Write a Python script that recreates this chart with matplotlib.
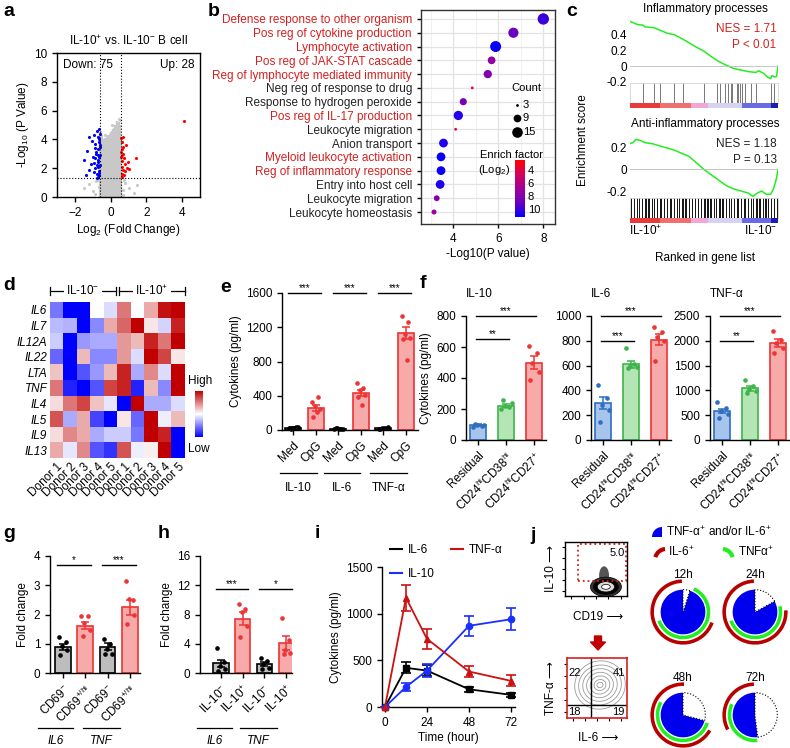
import numpy as np
import matplotlib
matplotlib.use("Agg")
import matplotlib.pyplot as plt
from matplotlib.colors import LinearSegmentedColormap, Normalize
from matplotlib.cm import ScalarMappable
from matplotlib.patches import Wedge, Arc, Ellipse, Rectangle, FancyArrow
from matplotlib.lines import Line2D
from matplotlib.ticker import MultipleLocator
from matplotlib.transforms import IdentityTransform

plt.rcParams["font.family"] = ["Liberation Sans", "DejaVu Sans"]
plt.rcParams["mathtext.fontset"] = "custom"
plt.rcParams["mathtext.rm"] = "Liberation Sans"
plt.rcParams["mathtext.it"] = "Liberation Sans:italic"
plt.rcParams["font.size"] = 8.5
plt.rcParams["axes.linewidth"] = 1.0

# ---------------- a: volcano ----------------
down_x = [-1.35, -1.2, -1.1, -0.95, -0.85, -0.75, -0.7, -0.65, -0.62, -0.68, -0.72, -0.8, -0.9,
          -1.05, -1.2, -0.95, -0.75, -0.65, -0.62, -0.7, -0.85, -1.0, -0.6, -0.63, -0.78, -0.66,
          -0.88, -0.73, -1.3, -0.61, -0.69, -0.64, -0.76, -1.5, -0.82, -0.67, -0.6, -0.71, -0.93, -0.64]
down_y = [1.55, 1.9, 2.3, 2.35, 2.0, 1.6, 1.4, 1.8, 2.2, 2.6, 2.9, 3.1, 3.4,
          3.9, 4.2, 4.3, 4.6, 4.0, 3.6, 3.3, 2.7, 2.75, 2.95, 1.5, 2.2, 3.8,
          3.7, 4.2, 3.2, 4.4, 2.1, 1.65, 1.35, 2.6, 3.0, 4.7, 3.45, 2.45, 1.75, 2.8]
up_x = [0.6, 0.65, 0.62, 0.7, 0.75, 0.62, 0.8, 0.65, 0.9, 0.7, 1.0, 0.62, 0.75, 1.4, 4.1,
        0.66, 0.85, 0.6, 0.72, 0.64, 0.95, 0.6, 0.78, 0.68]
up_y = [4.1, 3.8, 3.3, 3.0, 2.7, 2.5, 2.3, 2.1, 2.0, 1.9, 1.95, 1.6, 1.5, 2.7, 5.3,
        2.9, 3.6, 2.75, 4.2, 1.4, 2.4, 3.1, 1.8, 3.5]
cloud_x = [-0.58, -0.54, -0.5, -0.46, -0.42, -0.38, -0.34, -0.3, -0.26, -0.22, -0.18, -0.14, -0.1, -0.06, -0.02,
           0.02, 0.06, 0.1, 0.14, 0.18, 0.22, 0.26, 0.3, 0.34, 0.38, 0.42, 0.46, 0.5, 0.54, 0.58]
cloud_top = [4.5, 4.6, 4.3, 4.1, 4.0, 3.9, 4.0, 4.1, 4.0, 4.2, 4.1, 4.3, 4.2, 4.4, 4.3,
             4.5, 4.6, 4.5, 4.7, 4.8, 4.9, 5.0, 5.0, 5.2, 5.3, 5.1, 5.2, 5.0, 4.6, 4.0]
gray_x = [-1.5, -1.2, -1.0, -0.8, 0.8, 1.0, 1.3, 1.5, -0.9, 0.7, -0.65, 0.68, -0.7, 0.75, 0.45, 0.1, -0.3, 0.55]
gray_y = [0.6, 0.9, 0.4, 1.1, 1.0, 0.6, 0.3, 0.8, 0.2, 0.15, 0.7, 0.5, 1.2, 1.15, 5.4, 5.0, 4.3, 5.35]

# ---------------- b: GO terms ----------------
go_terms = ["Defense response to other organism", "Pos reg of cytokine production", "Lymphocyte activation",
            "Pos reg of JAK-STAT cascade", "Reg of lymphocyte mediated immunity", "Neg reg of response to drug",
            "Response to hydrogen peroxide", "Pos reg of IL-17 production", "Leukocyte migration",
            "Anion transport", "Myeloid leukocyte activation", "Reg of inflammatory response",
            "Entry into host cell", "Leukocyte migration", "Leukocyte homeostasis"]
go_red = [True, True, True, True, True, False, False, True, False, False, True, True, False, False, False]
go_logp = [8.0, 6.67, 5.88, 5.7, 5.53, 4.84, 4.44, 4.22, 4.1, 3.56, 3.45, 3.45, 3.41, 3.26, 3.14]
go_count = [17, 14, 16, 9, 10, 3, 8, 12, 3, 11, 11, 11, 11, 6, 5]
go_enrich = [10, 9, 11, 7.5, 8, 4, 8.5, 10.5, 4, 10.5, 11, 11, 10.5, 8, 7]
count_keys = [3, 9, 15]

# ---------------- c: GSEA ----------------
inf_x = [0, 0.05, 0.09, 0.1, 0.16, 0.2, 0.25, 0.3, 0.36, 0.45, 0.5, 0.55, 0.59, 0.64, 0.7, 0.75,
         0.8, 0.85, 0.87, 0.9, 0.93, 0.95, 0.96, 0.98, 0.99, 1.0]
inf_es = [0.57, 0.53, 0.52, 0.5, 0.49, 0.46, 0.42, 0.4, 0.34, 0.24, 0.19, 0.12, 0.07, 0.02, -0.03, -0.05,
          -0.07, -0.08, -0.06, -0.09, -0.14, -0.16, -0.12, -0.14, -0.13, 0.0]
inf_hits = [0.09, 0.16, 0.2, 0.3, 0.36, 0.5, 0.59, 0.61, 0.64, 0.66, 0.68, 0.69, 0.72, 0.73, 0.74,
            0.76, 0.78, 0.82, 0.85, 0.95, 0.97, 1.0]
anti_x = [0, 0.02, 0.04, 0.07, 0.1, 0.15, 0.2, 0.25, 0.3, 0.35, 0.4, 0.45, 0.5, 0.55, 0.6, 0.65,
          0.7, 0.75, 0.8, 0.83, 0.86, 0.89, 0.92, 0.95, 0.97, 0.99, 1.0]
anti_es = [0.24, 0.25, 0.28, 0.27, 0.25, 0.24, 0.22, 0.2, 0.18, 0.15, 0.12, 0.06, 0.0, -0.05, -0.1, -0.15,
           -0.18, -0.2, -0.22, -0.25, -0.22, -0.2, -0.23, -0.23, -0.18, -0.08, 0.0]
anti_hits = [0.01, 0.03, 0.05, 0.06, 0.08, 0.1, 0.11, 0.12, 0.13, 0.15, 0.16, 0.18, 0.2, 0.21, 0.23, 0.25,
             0.27, 0.28, 0.3, 0.32, 0.33, 0.35, 0.36, 0.37, 0.38, 0.4, 0.42, 0.44, 0.46, 0.48, 0.5, 0.51,
             0.52, 0.53, 0.54, 0.55, 0.57, 0.58, 0.6, 0.61, 0.62, 0.63, 0.65, 0.67, 0.68, 0.7, 0.72, 0.73,
             0.75, 0.77, 0.78, 0.8, 0.82, 0.83, 0.85, 0.86, 0.87, 0.88, 0.9, 0.91, 0.92, 0.93, 0.95, 0.97, 0.99]
rank_edges = [0.0, 0.2, 0.41, 0.53, 0.76, 0.95, 1.0]
rank_colors = ["#E83A3A", "#F07070", "#F2A8D6", "#D6D2F2", "#6A6AE6", "#1C1CB0"]

# ---------------- d: heatmap ----------------
genes = ["IL6", "IL7", "IL12A", "IL22", "LTA", "TNF", "IL4", "IL5", "IL9", "IL13"]
donors = ["Donor 1", "Donor 2", "Donor 3", "Donor 4", "Donor 5"] * 2
heat = [
    [-0.8, -1.5, -1.5, 0.0, -0.2, 0.8, 0.0, 0.5, 1.4, 1.5],
    [-0.4, -0.45, -1.5, -0.7, 0.5, 0.9, 1.5, 0.15, -0.25, 1.3],
    [-0.3, -1.5, -0.6, -0.5, -0.5, 0.6, 0.4, 1.3, 0.8, 1.5],
    [-0.9, -1.5, 0.4, -0.7, -0.7, 0.6, -0.2, 1.5, 1.1, 0.15],
    [0.35, -1.5, -1.0, -0.6, 0.4, 1.3, -0.5, 0.7, -0.2, 1.5],
    [0.8, -1.3, -1.5, -1.0, 1.1, 1.3, -1.3, 0.4, -0.7, 1.5],
    [0.2, 0.8, 1.1, 0.35, -0.15, -1.5, 1.5, -0.5, -0.5, -0.2],
    [1.0, -0.5, 0.5, -1.1, -1.5, 0.15, -0.9, 1.5, -0.1, 0.4],
    [0.2, 0.7, 0.5, -0.5, -0.3, -0.3, -0.8, 1.5, 1.3, -1.5],
    [0.5, -0.15, 0.7, -1.0, -1.2, 1.0, -0.1, 0.1, 1.5, -1.5],
]

# ---------------- e ----------------
e_labels = ["Med", "CpG"] * 3
e_groups = ["IL-10", "IL-6", "TNF-α"]
e_means = [25, 255, 15, 430, 20, 1135]
e_sems = [5, 35, 3, 35, 5, 70]
e_dots = [[20, 30, 25, 35, 15, 28], [322, 380, 282, 243, 157, 216],
          [10, 15, 20, 12, 18, 14], [549, 490, 462, 412, 384, 294],
          [15, 25, 20, 30, 10, 22], [1333, 1262, 1117, 1078, 1059, 815]]

# ---------------- f ----------------
f_titles = ["IL-10", "IL-6", "TNF-α"]
f_labels = ["Residual", r"CD24$^{\mathrm{hi}}$CD38$^{\mathrm{hi}}$", r"CD24$^{\mathrm{hi}}$CD27$^{+}$"]
f_ymax = [800, 1000, 2500]
f_ystep = [200, 200, 500]
f_means = [[95, 222, 500], [298, 610, 810], [585, 1040, 1960]]
f_sems = [[6, 12, 40], [50, 28, 45], [45, 45, 85]]
f_dots = [
    [[85, 92, 96, 100, 105], [200, 212, 222, 238, 255], [608, 560, 500, 440, 390]],
    [[440, 340, 285, 240, 145], [740, 615, 600, 585, 578], [910, 870, 830, 800, 640]],
    [[760, 640, 590, 520, 450], [1200, 1080, 1030, 990, 950], [2200, 2020, 1960, 1850, 1750]],
]
f_sig = [[("**", 650), ("***", 800)], [("***", 800), ("***", 1000)], [("**", 2000), ("***", 2500)]]

# ---------------- g / h ----------------
g_labels = [r"CD69$^{-}$", r"CD69$^{+/\mathrm{hi}}$", r"CD69$^{-}$", r"CD69$^{+/\mathrm{hi}}$"]
g_means = [0.9, 1.62, 0.9, 2.25]
g_sems = [0.1, 0.12, 0.12, 0.25]
g_dots = [[1.23, 1.06, 0.91, 0.8, 0.63], [1.94, 1.94, 1.71, 1.48, 1.25],
          [1.17, 0.98, 0.83, 0.66, 0.64], [3.15, 2.48, 2.54, 1.97, 1.69]]
h_labels = [r"IL-10$^{-}$", r"IL-10$^{+}$", r"IL-10$^{-}$", r"IL-10$^{+}$"]
h_means = [1.3, 7.4, 1.2, 4.1]
h_sems = [0.5, 0.9, 0.3, 0.9]
h_dots = [[3.4, 1.5, 1.0, 0.5, 0.3], [9.5, 8.8, 8.3, 6.4, 4.9],
          [2.0, 1.6, 1.2, 0.7, 0.5], [7.5, 4.5, 3.2, 2.8, 2.6]]
gene_groups = ["IL6", "TNF"]

# ---------------- i ----------------
time_h = [0, 12, 24, 48, 72]
il6 = [0, 420, 390, 190, 130]
il6_err = [0, 60, 60, 25, 25]
tnf = [0, 1170, 730, 380, 280]
tnf_err = [0, 140, 110, 60, 60]
il10 = [0, 215, 390, 870, 940]
il10_err = [0, 40, 70, 110, 120]

# ---------------- j ----------------
gate_pct = "5.0"
quad_pct = [22, 41, 18, 19]
pie_times = ["12h", "24h", "48h", "72h"]
pie_pos_frac = [0.95, 0.83, 0.71, 0.52]
il6_arcs = [(92, 340), (92, 363), (88, 330), (92, 208)]
tnf_arcs = [(200, 425), (200, 373), (150, 342), (155, 275)]

# ================= drawing =================
W, H = 790, 748
fig = plt.figure(figsize=(W / 100, H / 100), dpi=100)

RED_T = "#D42020"
BAR_RED_F, BAR_RED_E = "#F6AAAA", "#EE3434"
BAR_K_F = "#BDBDBD"
jit = [-0.18, 0.12, -0.05, 0.2, -0.12, 0.05]


def box(x0, y0, x1, y1):
    return fig.add_axes([x0 / W, 1 - y1 / H, (x1 - x0) / W, (y1 - y0) / H])


def ftext(x, y, s, **kw):
    kw.setdefault("ha", "center")
    kw.setdefault("va", "center")
    fig.text(x / W, 1 - y / H, s, **kw)


def fline(xs, ys, **kw):
    fig.add_artist(Line2D([x / W for x in xs], [1 - y / H for y in ys], **kw))


def clean(ax):
    ax.spines[["top", "right"]].set_visible(False)
    ax.tick_params(direction="out", length=3.5, width=1, labelsize=8.5)


def bars(ax, means, sems, dots, fills, edges, width):
    for i, (m, s, d, fc, ec) in enumerate(zip(means, sems, dots, fills, edges)):
        ax.bar(i, m, width, color=fc, edgecolor=ec, lw=1.2, zorder=2)
        ax.errorbar(i, m, yerr=s, fmt="none", ecolor=ec, capsize=3, elinewidth=1.1, capthick=1.1, zorder=3)
        ax.scatter(np.array(jit[:len(d)]) + i, d, s=11, color=ec, lw=0, zorder=4, clip_on=False)


def sig(ax, x0, x1, y, txt):
    ax.plot([x0, x1], [y, y], color="k", lw=1, clip_on=False)
    ax.text((x0 + x1) / 2, y, txt, ha="center", va="bottom", fontsize=7)


# panel letters
for lab, (x, y) in zip("abcdefghij", [(3, 12), (208, 12), (566, 12), (3, 285), (220, 287),
                                       (420, 284), (3, 533), (158, 533), (315, 533), (530, 535)]):
    ftext(x, y, lab, ha="left", fontsize=14, fontweight="bold")

# ---- a ----
ax = box(57, 53, 200, 197)
ax.vlines(cloud_x, 0, cloud_top, color="#C8C8C8", lw=1.6, zorder=1)
ax.scatter(gray_x, gray_y, s=5, color="#C8C8C8", lw=0, zorder=1)
ax.scatter(down_x, down_y, s=5, color="#0000FF", lw=0, zorder=2)
ax.scatter(up_x, up_y, s=5, color="#FF0000", lw=0, zorder=2)
for v in (-0.58, 0.58):
    ax.axvline(v, ls=":", color="k", lw=0.8, zorder=3)
ax.axhline(1.3, ls=":", color="k", lw=0.8, zorder=3)
ax.set_xlim(-3, 5)
ax.set_ylim(0, 10)
ax.set_xticks([-2, 0, 2, 4])
ax.set_yticks(range(0, 11, 2))
ax.tick_params(direction="out", length=3.5, width=1, labelsize=8.5)
ax.text(0.04, 0.92, "Down: 75", transform=ax.transAxes, va="center", fontsize=8.5)
ax.text(0.96, 0.92, "Up: 28", transform=ax.transAxes, va="center", ha="right", fontsize=8.5)
ax.set_title(r"IL-10$^{+}$ vs. IL-10$^{-}$ B cell", fontsize=8.5, pad=6)
ax.set_xlabel(r"Log$_2$ (Fold Change)", fontsize=8.5, labelpad=2)
ax.set_ylabel(r"-Log$_{10}$ (P Value)", fontsize=8.5, labelpad=2)

# ---- b ----
cmap_b = LinearSegmentedColormap.from_list("enr", ["#FF0000", "#D6005A", "#A0009A", "#6A00C0", "#0000FF"])
norm_b = Normalize(2.5, 11.2)
ax = box(421, 10, 555, 224)
rows = np.arange(len(go_terms))
size = lambda c: 4 + (np.asarray(c) - 3) * 4.5
ax.scatter(go_logp, rows, s=size(go_count), c=go_enrich, cmap=cmap_b, norm=norm_b, zorder=3, lw=0)
ax.set_xlim(2.56, 8.52)
ax.set_ylim(14.87, -0.65)
ax.set_yticks(rows)
ax.set_yticklabels(go_terms, fontsize=7.6)
for t, red in zip(ax.get_yticklabels(), go_red):
    t.set_color(RED_T if red else "#222222")
ax.set_xticks([4, 6, 8])
ax.xaxis.set_minor_locator(MultipleLocator(1))
ax.grid(True, which="major", color="#E3E3E3", lw=0.9)
ax.grid(True, which="minor", axis="x", color="#EFEFEF", lw=0.6)
ax.set_axisbelow(True)
ax.tick_params(direction="out", length=3, width=1, labelsize=8.5)
ax.tick_params(which="minor", length=0)
for s in ax.spines.values():
    s.set_color("#333333")
ax.set_xlabel("-Log10(P value)", fontsize=8.5, labelpad=2)
ax.text(0.79, 0.636, "Count", transform=ax.transAxes, ha="center", va="center", fontsize=8)
for c, yy in zip(count_keys, [0.556, 0.497, 0.432]):
    ax.scatter(0.716, yy, s=size(c), color="k", transform=ax.transAxes, clip_on=False, lw=0)
    ax.text(0.76, yy, str(c), transform=ax.transAxes, va="center", fontsize=8)
cax = box(515, 160, 525, 217)
cb = fig.colorbar(ScalarMappable(norm=norm_b, cmap=cmap_b), cax=cax)
cb.set_ticks([4, 6, 8, 10])
cb.outline.set_visible(False)
cax.invert_yaxis()
cax.tick_params(length=0, labelsize=8, pad=2)
ftext(512, 155, "Enrich factor", fontsize=8)
ftext(494, 170, r"(Log$_2$)", fontsize=8)

# ---- c ----
def gsea(top, es_x, es_y, ylim, yticks, hits, hitc, title, nes, pv, col):
    axc = box(630, top, 778, top + 64)
    axc.plot(es_x, es_y, color="#22EE22", lw=1.1)
    axc.axhline(0, color="#BBBBBB", lw=0.6)
    axc.set_xlim(0, 1)
    axc.set_ylim(*ylim)
    axc.set_yticks(yticks)
    axc.set_yticklabels(["0" if v == 0 else f"{v:g}" for v in yticks])
    axc.set_xticks([])
    axc.tick_params(length=0, labelsize=8.5, pad=2)
    for s in axc.spines.values():
        s.set_visible(False)
    axc.text(0.99, 0.84, nes, transform=axc.transAxes, ha="right", va="center", color=col, fontsize=8.5)
    axc.text(0.99, 0.6, pv, transform=axc.transAxes, ha="right", va="center", color=col, fontsize=8.5)
    ftext(705, top - 10, title, fontsize=8.5)
    axb = box(630, top + 64, 778, top + 84)
    axb.vlines(hits, 0, 1, color=hitc, lw=0.7)
    axb.set_xlim(0, 1)
    axb.set_ylim(0, 1)
    axb.set_xticks([])
    axb.set_yticks([])
    for s in axb.spines.values():
        s.set_color("#CCCCCC")
        s.set_linewidth(0.5)
    axs = box(630, top + 84, 778, top + 89)
    for x0, x1, c in zip(rank_edges[:-1], rank_edges[1:], rank_colors):
        axs.axvspan(x0, x1, color=c, lw=0)
    axs.set_xlim(0, 1)
    axs.axis("off")


gsea(19, inf_x, inf_es, (-0.215, 0.6), [-0.2, 0, 0.2, 0.4], inf_hits, "#777777",
     "Inflammatory processes", "NES = 1.71", "P < 0.01", RED_T)
gsea(134, anti_x, anti_es, (-0.265, 0.33), [-0.2, 0, 0.2], anti_hits, "#111111",
     "Anti-inflammatory processes", "NES = 1.18", "P = 0.13", "#222222")
ftext(646, 231, r"IL-10$^{+}$", fontsize=8.5)
ftext(761, 231, r"IL-10$^{-}$", fontsize=8.5)
ftext(705, 258, "Ranked in gene list", fontsize=8.5)
ftext(583, 140, "Enrichment score", fontsize=8.5, rotation=90)

# ---- d ----
cmap_d = LinearSegmentedColormap.from_list("hm", ["#0000FF", "#FFFFFF", "#C00000"])
ax = box(50, 302, 185, 458)
ax.imshow(heat, cmap=cmap_d, vmin=-1.5, vmax=1.5, aspect="auto")
ax.set_yticks(range(len(genes)))
ax.set_yticklabels(genes, fontstyle="italic", fontsize=8.5)
ax.set_xticks(range(len(donors)))
ax.set_xticklabels(donors, rotation=45, ha="right", va="top", rotation_mode="anchor", fontsize=8.5)
ax.tick_params(length=0, pad=2)
for s in ax.spines.values():
    s.set_visible(False)
for (x0, x1), lab in zip([(50, 116), (119, 185)], [r"IL-10$^{-}$", r"IL-10$^{+}$"]):
    fline([x0, x1], [291, 291], color="k", lw=0.9)
    fline([x0, x0], [287, 295], color="k", lw=0.9)
    fline([x1, x1], [287, 295], color="k", lw=0.9)
    fig.text((x0 + x1) / 2 / W, 1 - 291 / H, lab, ha="center", va="center", fontsize=8.5,
             bbox=dict(fc="white", ec="none", pad=1.5))
cax = box(195, 391, 203, 437)
cb = fig.colorbar(ScalarMappable(norm=Normalize(-1.5, 1.5), cmap=cmap_d), cax=cax)
cb.set_ticks([])
cb.outline.set_visible(False)
ftext(200, 381, "High", fontsize=8.5)
ftext(199, 449, "Low", fontsize=8.5)

# ---- e ----
ax = box(282, 293, 418, 430)
clean(ax)
bars(ax, e_means, e_sems, e_dots, [BAR_K_F, BAR_RED_F] * 3, ["k", BAR_RED_E] * 3, 0.7)
ax.set_xlim(-0.5, 5.55)
ax.set_ylim(0, 1600)
ax.set_yticks(range(0, 1601, 400))
ax.set_xticks(range(6))
ax.set_xticklabels(e_labels, rotation=45, ha="right", va="top", rotation_mode="anchor")
ax.set_ylabel("Cytokines (pg/ml)", labelpad=3)
for i in range(3):
    sig(ax, 2 * i - 0.25, 2 * i + 1.25, 1600, "***")
for (x0, x1), g in zip([(280, 317), (324, 360), (370, 407)], e_groups):
    fline([x0, x1], [473, 473], color="k", lw=0.9)
    ftext((x0 + x1) / 2, 488, g)

# ---- f ----
f_fill = ["#A7C4EC", "#B5E4B5", BAR_RED_F]
f_edge = ["#2F6FC0", "#3DB54A", BAR_RED_E]
for k, x0 in enumerate([466, 591, 710]):
    ax = box(x0, 316, x0 + 80, 440)
    clean(ax)
    bars(ax, f_means[k], f_sems[k], f_dots[k], f_fill, f_edge, 0.58)
    ax.set_xlim(-0.45, 2.45)
    ax.set_ylim(0, f_ymax[k])
    ax.set_yticks(range(0, f_ymax[k] + 1, f_ystep[k]))
    ax.set_xticks(range(3))
    ax.set_xticklabels(f_labels, rotation=45, ha="right", va="top", rotation_mode="anchor")
    ax.set_title(f_titles[k], loc="left", fontsize=8.5, pad=14)
    (t1, y1), (t2, y2) = f_sig[k]
    sig(ax, -0.1, 1.1, y1, t1)
    sig(ax, -0.1, 2.1, y2, t2)
    if k == 0:
        ax.set_ylabel("Cytokines (pg/ml)", labelpad=3)

# ---- g / h ----
for x0, x1, xl, means, sems, dots, labels, ymax, sigs, glines in [
    (50, 140, (-0.58, 3.45), g_means, g_sems, g_dots, g_labels, 4, [("*", 3.7), ("***", 3.7)],
     [(38, 73), (83, 120)]),
    (200, 292, (-0.97, 3.27), h_means, h_sems, h_dots, h_labels, 16, [("***", 11.5), ("*", 11.5)],
     [(197, 232), (240, 277)]),
]:
    ax = box(x0, 556, x1, 673)
    clean(ax)
    bars(ax, means, sems, dots, [BAR_K_F, BAR_RED_F] * 2, ["k", BAR_RED_E] * 2, 0.7)
    ax.set_xlim(*xl)
    ax.set_ylim(0, ymax)
    ax.set_yticks(np.linspace(0, ymax, 5))
    ax.set_yticklabels([f"{v:g}" for v in np.linspace(0, ymax, 5)])
    ax.set_xticks(range(4))
    ax.set_xticklabels(labels, rotation=45, ha="right", va="top", rotation_mode="anchor")
    ax.set_ylabel("Fold change", labelpad=3)
    sig(ax, -0.25, 1.25, sigs[0][1], sigs[0][0])
    sig(ax, 1.75, 3.25, sigs[1][1], sigs[1][0])
    for (a0, a1), g in zip(glines, gene_groups):
        fline([a0, a1], [728, 728], color="k", lw=0.9)
        ftext((a0 + a1) / 2, 741, g, fontstyle="italic")

# ---- i ----
ax = box(382, 567, 515, 707)
clean(ax)
for y, e, c, m, lab in [(il6, il6_err, "k", "s", "IL-6"), (il10, il10_err, "#1A2EFF", "o", "IL-10"),
                        (tnf, tnf_err, "#CC1111", "^", "TNF-α")]:
    ax.errorbar(time_h, y, yerr=e, color=c, marker=m, ms=4.5, lw=1.3, capsize=3.5, capthick=1.2,
                elinewidth=1.2, label=lab, clip_on=False, zorder=3)
ax.set_xlim(-1.7, 74.3)
ax.set_ylim(0, 1500)
ax.set_xticks([0, 24, 48, 72])
ax.set_yticks([0, 500, 1000, 1500])
ax.set_xlabel("Time (hour)", labelpad=2)
ax.set_ylabel("Cytokines (pg/ml)", labelpad=3)
hs, ls = ax.get_legend_handles_labels()
hs = [Line2D([], [], color=h[0].get_color(), lw=1.5) for h in hs]
ax.legend(hs, ls, ncol=2, loc="upper left", bbox_to_anchor=(0.0, 1.22), frameon=False, fontsize=8.5,
          handlelength=1.0, handletextpad=0.5, columnspacing=1.4, labelspacing=0.95, borderpad=0.2)

# ---- j: flow plots ----
ax = box(565, 542, 627, 596)
ax.set_xlim(0, 1)
ax.set_ylim(0, 1)
ax.set_xticks([0.1, 0.3, 0.5, 0.7, 0.9])
ax.set_yticks([0.1, 0.3, 0.5, 0.7, 0.9])
ax.set_xticklabels([])
ax.set_yticklabels([])
ax.tick_params(length=2, width=0.8)
ax.add_patch(Ellipse((0.63, 0.38), 0.16, 0.34, fc="#555555", ec="none"))
for wd, ht, fc in [(0.5, 0.36, "#333333"), (0.4, 0.28, "#000000"), (0.28, 0.19, "#DADADA"), (0.14, 0.09, "#FFFFFF")]:
    ax.add_patch(Ellipse((0.66, 0.17), wd, ht, fc=fc, ec="k", lw=0.5))
ax.add_patch(Rectangle((0.21, 0.28), 0.77, 0.68, fill=False, ec="#D42020", ls=":", lw=1.3))
ax.text(0.84, 0.8, gate_pct, ha="center", va="center", fontsize=8)
ftext(551, 568, "IL-10 ⟶", rotation=90, fontsize=8.5)
ftext(598, 617, "CD19 ⟶", fontsize=8.5)
fig.add_artist(FancyArrow(598, H - 636, 0, -6, width=7, head_width=15, head_length=8,
                          length_includes_head=False, color="#C00000", transform=IdentityTransform()))

ax = box(567, 658, 627, 718)
ax.set_xlim(0, 1)
ax.set_ylim(0, 1)
ax.set_xticks([0.1, 0.3, 0.5, 0.7, 0.9])
ax.set_yticks([0.1, 0.3, 0.5, 0.7, 0.9])
ax.set_xticklabels([])
ax.set_yticklabels([])
ax.tick_params(length=2, width=0.8)
for s in ax.spines.values():
    s.set_color("#D42020")
    s.set_linewidth(1.2)
for wd, ht in [(0.85, 0.8), (0.72, 0.66), (0.58, 0.54), (0.45, 0.42), (0.33, 0.3), (0.2, 0.18), (0.1, 0.09)]:
    ax.add_patch(Ellipse((0.55, 0.55), wd, ht, angle=20, fill=False, ec="#9A9A9A", lw=0.6))
ax.axvline(0.4, color="k", lw=1)
ax.axhline(0.22, color="k", lw=1)
for (qx, qy), v in zip([(0.13, 0.75), (0.86, 0.75), (0.13, 0.1), (0.86, 0.1)], quad_pct):
    ax.text(qx, qy, str(v), ha="center", va="center", fontsize=8)
ftext(551, 688, "TNF-α ⟶", rotation=90, fontsize=8.5)
ftext(598, 738, "IL-6 ⟶", fontsize=8.5)

# ---- j: pies ----
BLUE_P, RED_P, GREEN_P = "#0000EE", "#B80000", "#22EE22"
for (cx, cy), lab, f, ra, ga in zip([(683, 612), (755, 612), (683, 715), (755, 715)], pie_times,
                                    pie_pos_frac, il6_arcs, tnf_arcs):
    ax = box(cx - 38, cy - 38, cx + 38, cy + 38)
    ax.set_xlim(-1.7, 1.7)
    ax.set_ylim(-1.7, 1.7)
    ax.axis("off")
    ax.add_patch(Wedge((0, 0), 1, 90, 90 + f * 360, color=BLUE_P, lw=0))
    ax.add_patch(Wedge((0, 0), 1, 90 + f * 360, 450, fc="white", ec="k", ls=":", lw=0.8))
    ax.add_patch(Wedge((0, 0), 1.22, ga[0], ga[1], width=0.16, color=GREEN_P, lw=0))
    ax.add_patch(Wedge((0, 0), 1.46, ra[0], ra[1], width=0.16, color=RED_P, lw=0))
    ftext(cx, cy - 37, lab, fontsize=8.5)

ax = box(645, 520, 790, 562)
ax.set_xlim(645, 790)
ax.set_ylim(H - 562, H - 520)
ax.axis("off")
ax.add_patch(Wedge((662, H - 537), 10, 90, 180, color=BLUE_P, lw=0))
ax.text(666, H - 532, r"TNF-α$^{+}$ and/or IL-6$^{+}$", va="center", fontsize=8.5)
ax.add_patch(Arc((666, H - 560), 22, 22, theta1=95, theta2=165, color=RED_P, lw=3))
ax.text(668, H - 552, r"IL-6$^{+}$", va="center", fontsize=8.5)
ax.add_patch(Arc((722, H - 560), 22, 22, theta1=15, theta2=85, color=GREEN_P, lw=3))
ax.text(738, H - 552, r"TNFα$^{+}$", va="center", fontsize=8.5)

fig.savefig("out.png", dpi=100)
